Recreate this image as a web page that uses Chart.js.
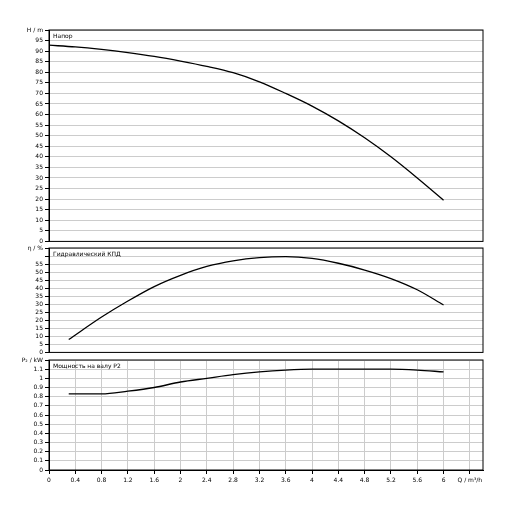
<!DOCTYPE html>
<html><head><meta charset="utf-8">
<script src="https://cdn.jsdelivr.net/npm/chart.js@4"></script>
<style>
body{margin:0;background:#fff;width:508px;height:508px;position:relative;overflow:hidden}
canvas{position:absolute;left:0}
</style></head><body>
<canvas id="c1"></canvas><canvas id="c2"></canvas><canvas id="c3"></canvas>
<script>
const qHead = [0, 0.4, 0.8, 1.2, 1.6, 2.0, 2.4, 2.8, 3.2, 3.6, 4.0, 4.4, 4.8, 5.2, 5.6, 6.0];
const head = [92.8, 92.0, 90.8, 89.3, 87.5, 85.3, 82.8, 79.8, 75.5, 70.0, 64.0, 57.0, 49.0, 40.0, 30.0, 19.5];
const qEff = [0.3, 0.8, 1.2, 1.6, 2.0, 2.4, 2.8, 3.2, 3.6, 4.0, 4.4, 4.8, 5.2, 5.6, 6.0];
const eff = [8, 22, 32, 41, 48, 53.5, 57, 59, 59.6, 58.5, 55.5, 51.3, 46, 39, 29.5];
const qPow = [0.3, 0.8, 1.2, 1.6, 2.0, 2.4, 2.8, 3.2, 3.6, 4.0, 4.4, 4.8, 5.2, 5.6, 6.0];
const power = [0.83, 0.83, 0.86, 0.9, 0.96, 1.0, 1.04, 1.07, 1.09, 1.1, 1.1, 1.1, 1.1, 1.09, 1.07];

const font = { family: 'DejaVu Sans', size: 6 };

function titlePlugin(text) {
    return {
        id: 'panelTitle',
        afterDraw(chart) {
            const { ctx, chartArea } = chart;
            ctx.save();
            ctx.font = '6px DejaVu Sans';
            ctx.fillStyle = '#000';
            ctx.textBaseline = 'top';
            ctx.fillText(text, chartArea.left + 4, chartArea.top + 3);
            ctx.strokeStyle = '#000';
            ctx.lineWidth = 1;
            ctx.strokeRect(chartArea.left, chartArea.top, chartArea.right - chartArea.left, chartArea.bottom - chartArea.top);
            ctx.restore();
        },
    };
}

function makeChart(id, top, height, xs, ys, yMax, yStep, yLabel, hide, title, showX, padTop) {
    const cv = document.getElementById(id);
    cv.style.top = top + 'px';
    cv.width = 508; cv.height = height;
    cv.style.width = '508px'; cv.style.height = height + 'px';
    new Chart(cv, {
        type: 'line',
        data: { datasets: [{ data: xs.map((x, i) => ({ x, y: ys[i] })), borderColor: '#000', borderWidth: 1.3, pointRadius: 0, cubicInterpolationMode: 'monotone', fill: false }] },
        options: {
            responsive: false, animation: false,
            layout: { padding: { top: padTop, right: 25, left: 0, bottom: 0 } },
            plugins: { legend: { display: false }, tooltip: { enabled: false } },
            scales: {
                x: {
                    type: 'linear', min: 0, max: 6.6, display: showX,
                    afterBuildTicks: s => { s.ticks = []; for (let i = 0; i <= 16; i++) s.ticks.push({ value: +(i * 0.4).toFixed(1) }); },
                    afterFit: s => { if (showX) s.height = 38; },
                    grid: { color: '#ccc', drawTicks: true, tickLength: 4, tickColor: '#000' },
                    border: { color: '#000' },
                    ticks: { font, color: '#000', maxRotation: 0, autoSkip: false, callback: v => Math.abs(v - 6.4) < 1e-6 ? 'Q / m³/h' : String(+v.toFixed(1)) },
                },
                y: {
                    min: 0, max: yMax,
                    afterBuildTicks: s => { s.ticks = []; const n = Math.round(yMax / yStep); for (let i = 0; i <= n; i++) s.ticks.push({ value: +(i * yStep).toFixed(2) }); },
                    afterFit: s => { s.width = 49; },
                    grid: { color: '#ccc', tickLength: 4, tickColor: '#000' },
                    border: { color: '#000' },
                    ticks: { font, color: '#000', padding: 2, autoSkip: false, callback: v => Math.abs(v - yMax) < 1e-6 ? yLabel : (hide.includes(v) ? '' : String(+v.toFixed(2))) },
                },
            },
        },
        plugins: [titlePlugin(title)],
    });
}

makeChart('c1', 0, 247, qHead, head, 100, 5, 'H / m', [], 'Напор', false, 30);
makeChart('c2', 240, 118, qEff, eff, 65, 5, 'η / %', [60], 'Гидравлический КПД', false, 8);
makeChart('c3', 352, 156, qPow, power, 1.2, 0.1, 'P₂ / kW', [], 'Мощность на валу P2', true, 8);
</script></body></html>
